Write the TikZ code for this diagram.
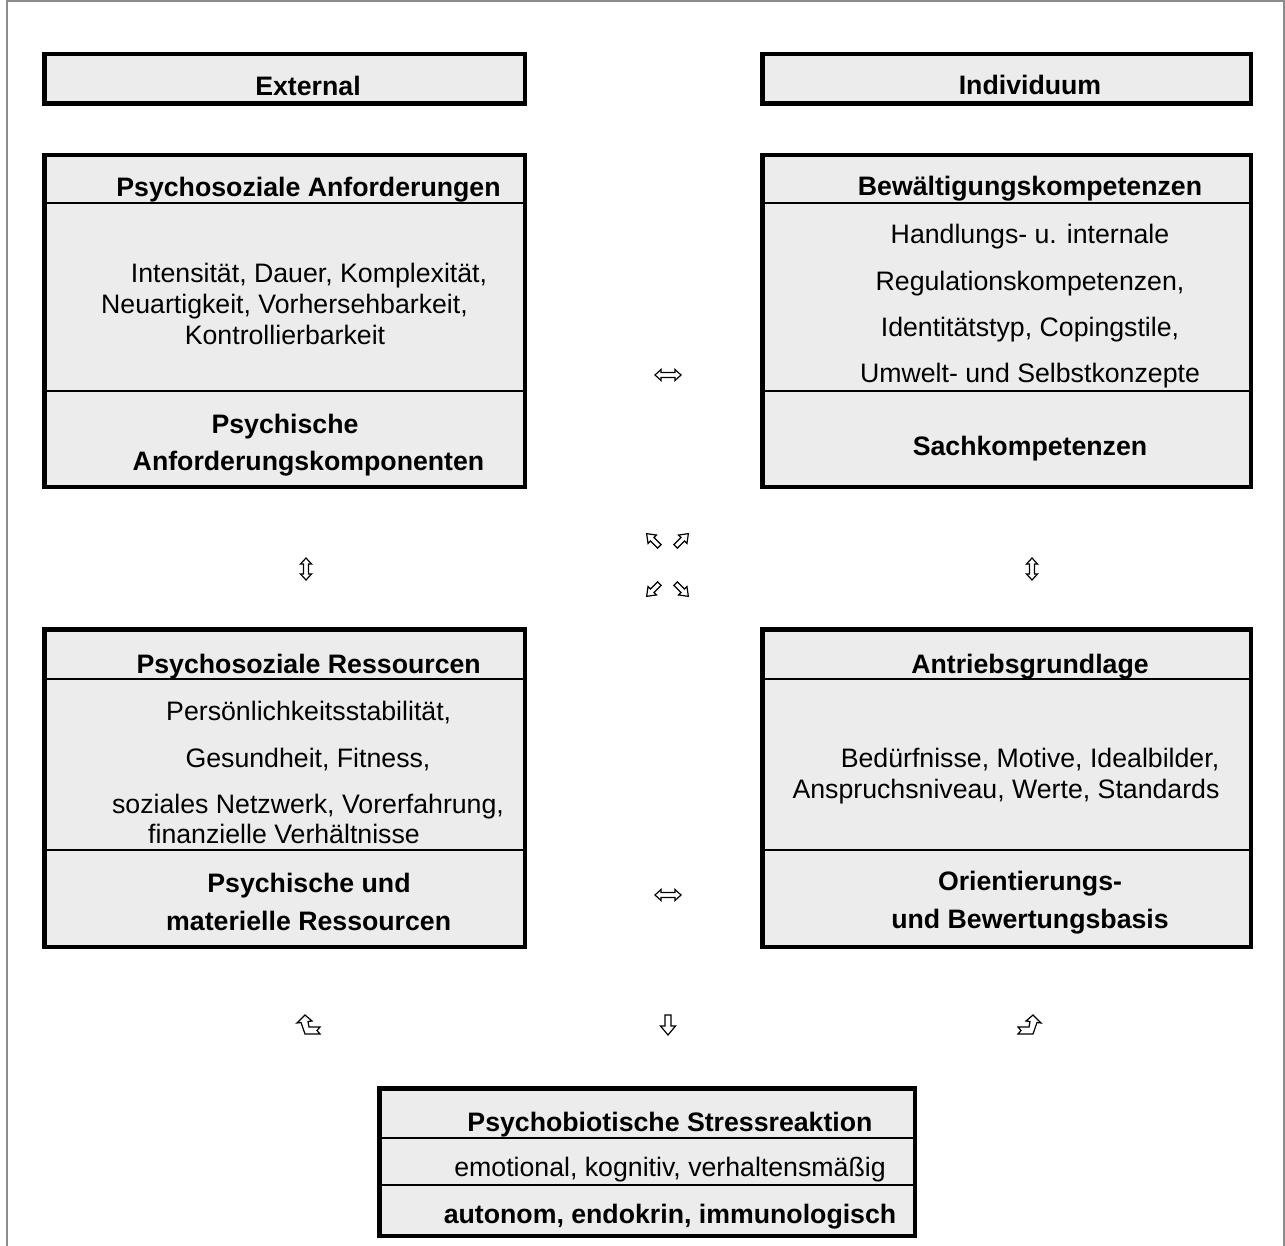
\documentclass[tikz,border=0pt]{standalone}
\usepackage{fontspec}
\setmainfont{Liberation Sans}
\definecolor{boxfill}{RGB}{235,236,235}
\definecolor{framegray}{RGB}{140,140,140}
\begin{document}
\begin{tikzpicture}[x=1pt,y=-1pt,
  box/.style={draw=black, line width=4.5pt, fill=boxfill, inner sep=0pt},
  div/.style={draw=black, line width=2pt},
  txt/.style={inner sep=0pt, anchor=base, font=\fontsize{26.7}{32}\selectfont},
  btxt/.style={txt, font=\fontsize{26.7}{32}\selectfont\bfseries},
  glyph/.style={draw=black, fill=white, line width=1.2pt, line join=miter},
  hdbl/.pic={\draw[glyph] (-13,0)--(-7,-5.5)--(-7,-2.5)--(7,-2.5)--(7,-5.5)--(13,0)--(7,5.5)--(7,2.5)--(-7,2.5)--(-7,5.5)--cycle;},
  vdbl/.pic={\draw[glyph] (0,-11)--(5.5,-5)--(2.5,-5)--(2.5,5)--(5.5,5)--(0,11)--(-5.5,5)--(-2.5,5)--(-2.5,-5)--(-5.5,-5)--cycle;},
  sarr/.pic={\draw[glyph] (-9,-2.5)--(1,-2.5)--(1,-6)--(9,0)--(1,6)--(1,2.5)--(-9,2.5)--cycle;},
  darr/.pic={\draw[glyph] (-3,-10)--(3,-10)--(3,1)--(7.5,1)--(0,10)--(-7.5,1)--(-3,1)--cycle;},
  curv/.pic={\draw[glyph] (9,1)--(16,7)--(12,7.5)--(13,13)--(24,13)--(21,16.5)--(24,20)--(9,20)--(5,8.5)--(1,9)--cycle;}
]
\useasboundingbox (0,0) rectangle (1285,1246);
% outer frame
\draw[framegray, line width=1.5pt] (7,1250) -- (7,1) -- (1284,1) -- (1284,1250);

% boxes
\node[box, minimum width=480.5pt, minimum height=49.5pt] (ext) at (284.5,79) {};
\node[box, minimum width=488.5pt, minimum height=49.5pt] (ind) at (1006.5,79) {};
\node[box, minimum width=480.5pt, minimum height=331.5pt] (anf) at (284.5,321) {};
\node[box, minimum width=488.5pt, minimum height=331.5pt] (bew) at (1006.5,321) {};
\node[box, minimum width=480.5pt, minimum height=317.5pt] (res) at (284.5,788) {};
\node[box, minimum width=488.5pt, minimum height=317.5pt] (ant) at (1006.5,788) {};
\node[box, minimum width=535.5pt, minimum height=147.5pt] (str) at (647,1162) {};

% dividers
\draw[div] (anf.west |- 0,203) -- (anf.east |- 0,203);
\draw[div] (anf.west |- 0,391) -- (anf.east |- 0,391);
\draw[div] (bew.west |- 0,203) -- (bew.east |- 0,203);
\draw[div] (bew.west |- 0,391) -- (bew.east |- 0,391);
\draw[div] (res.west |- 0,679) -- (res.east |- 0,679);
\draw[div] (res.west |- 0,850) -- (res.east |- 0,850);
\draw[div] (ant.west |- 0,679) -- (ant.east |- 0,679);
\draw[div] (ant.west |- 0,850) -- (ant.east |- 0,850);
\draw[div] (str.west |- 0,1138) -- (str.east |- 0,1138);
\draw[div] (str.west |- 0,1185) -- (str.east |- 0,1185);

% texts
\node[btxt] (t1) at (308,96) {External};
\node[btxt] (t2) at (1030,95) {Individuum};

\node[btxt] (a1) at (308.5,197) {Psychosoziale Anforderungen};
\node[txt] (a2) at (309,283) {Intensität, Dauer, Komplexität,};
\node[txt] (a3) at (284.5,314) {Neuartigkeit, Vorhersehbarkeit,};
\node[txt] (a4) at (285,345) {Kontrollierbarkeit};
\node[btxt] (a5) at (285,433) {Psychische};
\node[btxt] (a6) at (308.5,470) {Anforderungskomponenten};

\node[btxt] (b1) at (1030,196) {Bewältigungskompetenzen};
\node[txt] (b2) at (1030,244) {Handlungs- u. internale};
\node[txt] (b3) at (1030,291) {Regulationskompetenzen,};
\node[txt] (b4) at (1030,337) {Identitätstyp, Copingstile,};
\node[txt] (b5) at (1030,383) {Umwelt- und Selbstkonzepte};
\node[btxt] (b6) at (1030,455) {Sachkompetenzen};

\node[btxt] (c1) at (308.7,673) {Psychosoziale Ressourcen};
\node[txt] (c2) at (308.7,720) {Persönlichkeitsstabilität,};
\node[txt] (c3) at (308,767) {Gesundheit, Fitness,};
\node[txt] (c4) at (308,813) {soziales Netzwerk, Vorerfahrung,};
\node[txt] (c5) at (284,843) {finanzielle Verhältnisse};
\node[btxt] (c6) at (309,892) {Psychische und};
\node[btxt] (c7) at (308.7,930) {materielle Ressourcen};

\node[btxt] (d1) at (1030,673) {Antriebsgrundlage};
\node[txt] (d2) at (1030,767) {Bedürfnisse, Motive, Idealbilder,};
\node[txt] (d3) at (1006,798) {Anspruchsniveau, Werte, Standards};
\node[btxt] (d4) at (1030,890) {Orientierungs-};
\node[btxt] (d5) at (1030,928) {und Bewertungsbasis};

\node[btxt] (e1) at (670,1131) {Psychobiotische Stressreaktion};
\node[txt] (e2) at (670,1176) {emotional, kognitiv, verhaltensmäßig};
\node[btxt] (e3) at (670,1223) {autonom, endokrin, immunologisch};

% arrow glyphs
\pic at (668,375) {hdbl};
\pic at (668,895) {hdbl};
\pic at (306,569) {vdbl};
\pic at (1032,569) {vdbl};
\pic[rotate=135] at (653,540) {sarr};
\pic[rotate=45] at (682,540) {sarr};
\pic[rotate=225] at (653,590) {sarr};
\pic[rotate=-45] at (682,590) {sarr};
\pic at (668,1025) {darr};
\pic at (296,1014) {curv};
\pic[xscale=-1] at (1042,1014) {curv};
\end{tikzpicture}
\end{document}
